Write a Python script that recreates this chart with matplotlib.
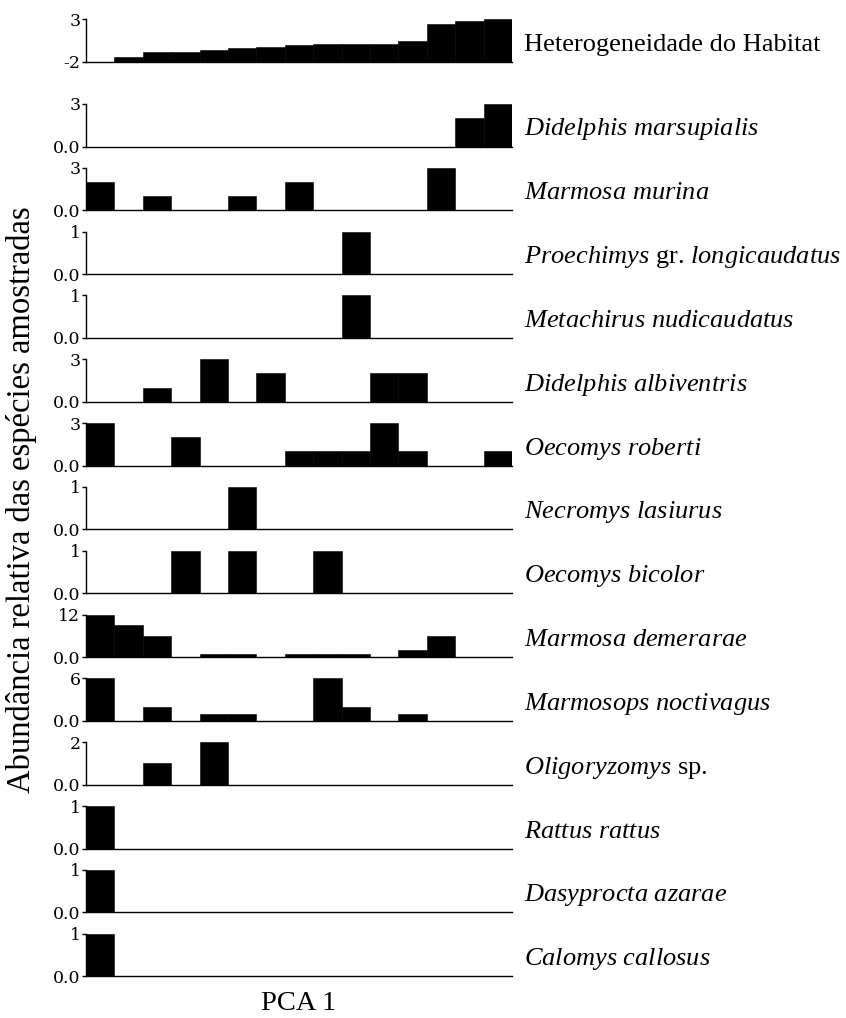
import matplotlib
matplotlib.use("Agg")
import matplotlib.pyplot as plt
import numpy as np

plt.rcParams['font.family'] = ['Liberation Serif', 'DejaVu Serif']
plt.rcParams['mathtext.fontset'] = 'custom'
plt.rcParams['mathtext.rm'] = 'Liberation Serif'
plt.rcParams['mathtext.it'] = 'Liberation Serif:italic'

# 15 sampled sites, ordered along PCA 1
sites = np.arange(15)

habitat = [-2.0, -1.45, -0.9, -0.9, -0.58, -0.43, -0.27, -0.07, 0.09, 0.09, 0.09, 0.4, 2.41, 2.76, 3.0]

species_names = [
    r"$\mathit{Didelphis}$ $\mathit{marsupialis}$",
    r"$\mathit{Marmosa}$ $\mathit{murina}$",
    r"$\mathit{Proechimys}$ gr. $\mathit{longicaudatus}$",
    r"$\mathit{Metachirus}$ $\mathit{nudicaudatus}$",
    r"$\mathit{Didelphis}$ $\mathit{albiventris}$",
    r"$\mathit{Oecomys}$ $\mathit{roberti}$",
    r"$\mathit{Necromys}$ $\mathit{lasiurus}$",
    r"$\mathit{Oecomys}$ $\mathit{bicolor}$",
    r"$\mathit{Marmosa}$ $\mathit{demerarae}$",
    r"$\mathit{Marmosops}$ $\mathit{noctivagus}$",
    r"$\mathit{Oligoryzomys}$ sp.",
    r"$\mathit{Rattus}$ $\mathit{rattus}$",
    r"$\mathit{Dasyprocta}$ $\mathit{azarae}$",
    r"$\mathit{Calomys}$ $\mathit{callosus}$",
]

didelphis_marsupialis = [0, 0, 0, 0, 0, 0, 0, 0, 0, 0, 0, 0, 0, 2, 3]
marmosa_murina        = [2, 0, 1, 0, 0, 1, 0, 2, 0, 0, 0, 0, 3, 0, 0]
proechimys            = [0, 0, 0, 0, 0, 0, 0, 0, 0, 1, 0, 0, 0, 0, 0]
metachirus            = [0, 0, 0, 0, 0, 0, 0, 0, 0, 1, 0, 0, 0, 0, 0]
didelphis_albiventris = [0, 0, 1, 0, 3, 0, 2, 0, 0, 0, 2, 2, 0, 0, 0]
oecomys_roberti       = [3, 0, 0, 2, 0, 0, 0, 1, 1, 1, 3, 1, 0, 0, 1]
necromys              = [0, 0, 0, 0, 0, 1, 0, 0, 0, 0, 0, 0, 0, 0, 0]
oecomys_bicolor       = [0, 0, 0, 1, 0, 1, 0, 0, 1, 0, 0, 0, 0, 0, 0]
marmosa_demerarae     = [12, 9, 6, 0, 1, 1, 0, 1, 1, 1, 0, 2, 6, 0, 0]
marmosops             = [6, 0, 2, 0, 1, 1, 0, 0, 6, 2, 0, 1, 0, 0, 0]
oligoryzomys          = [0, 0, 1, 0, 2, 0, 0, 0, 0, 0, 0, 0, 0, 0, 0]
rattus                = [1, 0, 0, 0, 0, 0, 0, 0, 0, 0, 0, 0, 0, 0, 0]
dasyprocta            = [1, 0, 0, 0, 0, 0, 0, 0, 0, 0, 0, 0, 0, 0, 0]
calomys               = [1, 0, 0, 0, 0, 0, 0, 0, 0, 0, 0, 0, 0, 0, 0]

species_counts = [didelphis_marsupialis, marmosa_murina, proechimys, metachirus,
                  didelphis_albiventris, oecomys_roberti, necromys, oecomys_bicolor,
                  marmosa_demerarae, marmosops, oligoryzomys, rattus, dasyprocta, calomys]
species_max = [3, 3, 1, 1, 3, 3, 1, 1, 12, 6, 2, 1, 1, 1]

W, H = 846, 1018
fig = plt.figure(figsize=(W / 100, H / 100), dpi=100)

left_px, right_px = 86, 512
panel_h = 42.5
tops = [19.3] + [104 + i * 63.82 for i in range(14)]


def make_ax(top):
    ax = fig.add_axes([left_px / W, 1 - (top + panel_h) / H,
                       (right_px - left_px) / W, panel_h / H])
    ax.spines['top'].set_visible(False)
    ax.spines['right'].set_visible(False)
    ax.spines['left'].set_linewidth(1.0)
    ax.spines['bottom'].set_linewidth(1.0)
    ax.set_xlim(-0.5, 14.5)
    ax.set_xticks([])
    ax.tick_params(axis='y', direction='out', length=3, width=1, pad=1)
    return ax


def set_ticks(ax, lo, hi, labels):
    ax.set_ylim(lo, hi)
    ax.set_yticks([lo, hi])
    ax.set_yticklabels(labels, family='DejaVu Serif', fontsize=12.5)


# habitat heterogeneity panel
ax = make_ax(tops[0])
hab = np.array(habitat)
ax.bar(sites, hab + 2, bottom=-2, width=1.0, color='black',
       edgecolor='black', linewidth=0.4)
set_ticks(ax, -2, 3, ['-2', '3'])
ax.text(1.027, 0.4, "Heterogeneidade do Habitat", transform=ax.transAxes,
        fontsize=19, va='center', ha='left')

# species panels
for i, (name, counts, ymax) in enumerate(zip(species_names, species_counts, species_max)):
    ax = make_ax(tops[i + 1])
    ax.bar(sites, counts, width=1.0, color='black', edgecolor='black',
           linewidth=0.4)
    set_ticks(ax, 0, ymax, ['0.0', str(ymax)])
    ax.text(1.027, 0.4, name, transform=ax.transAxes, fontsize=19,
            va='center', ha='left')

fig.text(22 / W, 1 - 500 / H, "Abundância relativa das espécies amostradas",
         rotation=90, fontsize=23.5, ha='center', va='center')
fig.text((left_px + right_px) / 2 / W, 1 - 1003 / H, "PCA 1",
         fontsize=20.5, ha='center', va='center')

fig.savefig("out.png", dpi=100)
